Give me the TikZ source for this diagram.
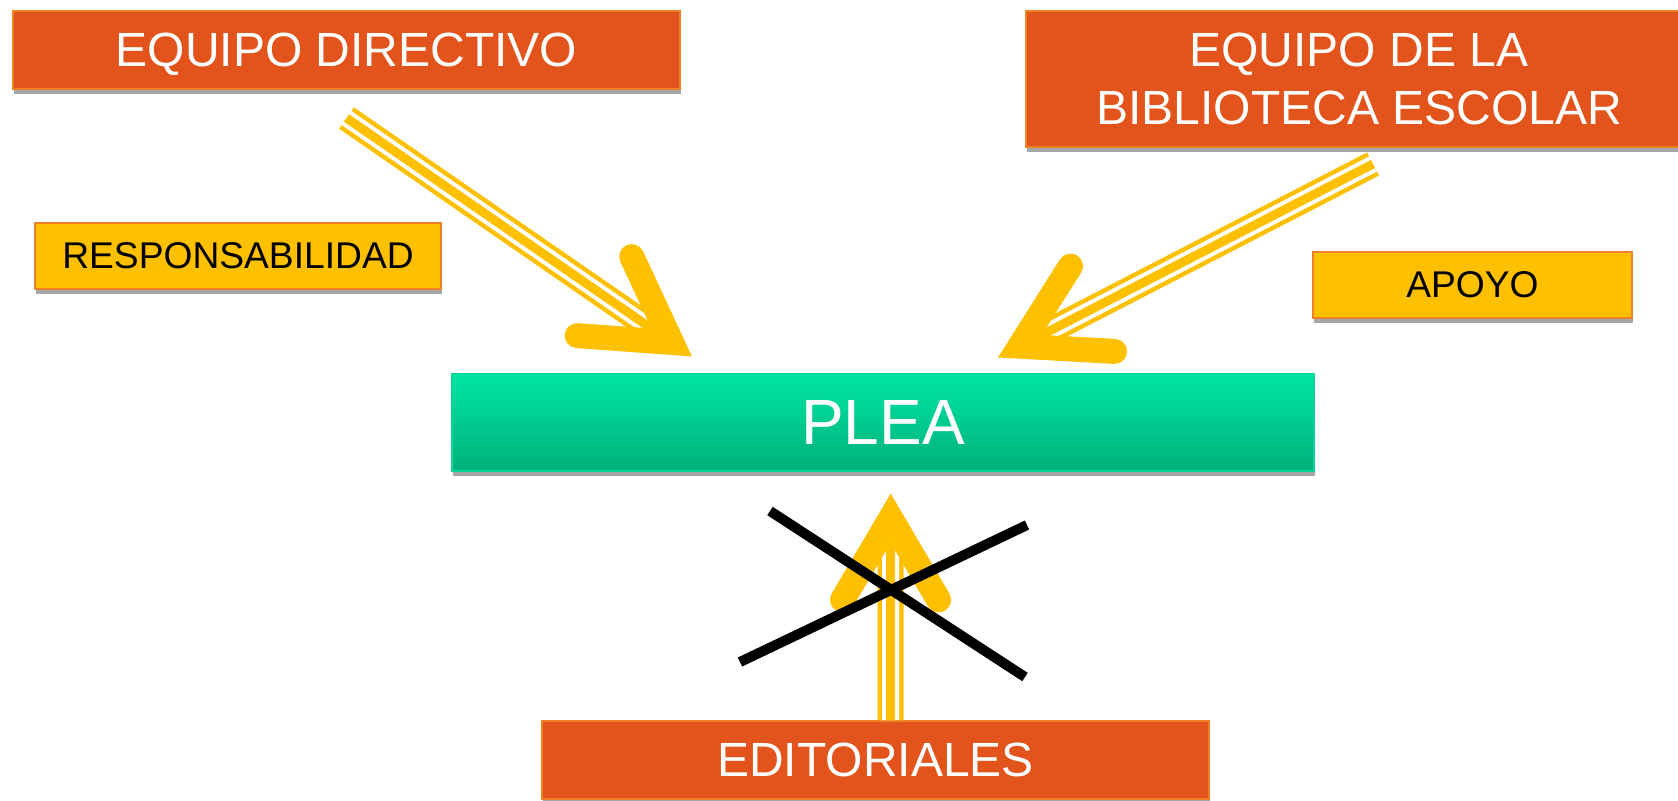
\documentclass[tikz,border=0pt]{standalone}
\usepackage{fontspec}
\setmainfont{Liberation Sans}
\usetikzlibrary{calc,shadows}
\definecolor{boxred}{RGB}{226,84,27}
\definecolor{boxredline}{RGB}{240,128,36}
\definecolor{gold}{RGB}{255,192,0}
\definecolor{goldline}{RGB}{237,128,40}
\definecolor{pleatop}{RGB}{0,230,164}
\definecolor{pleabot}{RGB}{0,176,122}
\definecolor{plealine}{RGB}{0,214,152}
\definecolor{shade}{RGB}{166,166,166}
\tikzset{boxshadow/.style={drop shadow={shadow xshift=.5pt,shadow yshift=-2.25pt,fill=shade,opacity=1}}}
\tikzset{unit/.style={boxshadow,draw=boxredline,line width=1pt,fill=boxred,text=white,
  font=\fontsize{24}{29}\selectfont,align=center,inner sep=0pt,minimum width=333.5pt,minimum height=39pt}}
\tikzset{tag/.style={boxshadow,draw=goldline,line width=1pt,fill=gold,text=black,
  font=\fontsize{18.6}{22}\selectfont,inner sep=0pt,minimum height=33pt}}
% triple shaft + open head, from #1 to #2
\newcommand\fatarrow[2]{%
  \draw[line width=13pt,gold] ($(#2)!25pt!(#1)$) -- (#1);
  \draw[line width=2pt,white,double=gold,double distance=4.5pt] ($(#2)!25pt!(#1)$) -- (#1);
  \draw[line width=12.5pt,gold,line cap=round,line join=miter]
    ($(#2)!58.35pt!24.3:(#1)$) -- ($(#2)!12.35pt!(#1)$) -- ($(#2)!58.35pt!-24.3:(#1)$);
}

\begin{document}
\begin{tikzpicture}[x=0.5pt,y=-0.5pt]
        \useasboundingbox (0,0) rectangle (1678,800);
        \node(dir)[unit,text depth=0pt] at (346.5,50){EQUIPO DIRECTIVO};
        \node(bib)[unit,minimum height=68pt] at (1359,79){EQUIPO DE LA\\BIBLIOTECA ESCOLAR};
        \node(resp)[tag,minimum width=203pt] at (238,256){RESPONSABILIDAD};
        \node(apoyo)[tag,minimum width=159.5pt] at (1472.5,285){APOYO};
        \node(plea)[boxshadow,draw=plealine,line width=1pt,top color=pleatop,bottom color=pleabot,
          text=white,font=\fontsize{32}{38}\selectfont,inner sep=0pt,
          minimum width=431pt,minimum height=48.5pt] at (883,422.5){PLEA};
        \node(edit)[unit] at (875.5,760){EDITORIALES};
        % arrow ends
        \coordinate(dirout) at ([yshift=-14pt]dir.south);
        \coordinate(bibout) at ([shift={(7pt,-8pt)}]bib.south);
        \coordinate(editout) at ([xshift=7.5pt]edit.north);
        \coordinate(pleal) at ([shift={(120.5pt,8.25pt)}]plea.north west);
        \coordinate(pleam) at ([shift={(-158.5pt,7.75pt)}]plea.north east);
        \coordinate(pleab) at ([shift={(3.85pt,-10.75pt)}]plea.south);
        \fatarrow{dirout}{pleal}
        \fatarrow{bibout}{pleam}
        \fatarrow{editout}{pleab}
        % crossed out
        \draw[line width=5pt] (770,511) -- (1025,677);
        \draw[line width=5pt] (740,662) -- (1027,525);
      \end{tikzpicture}
\end{document}
